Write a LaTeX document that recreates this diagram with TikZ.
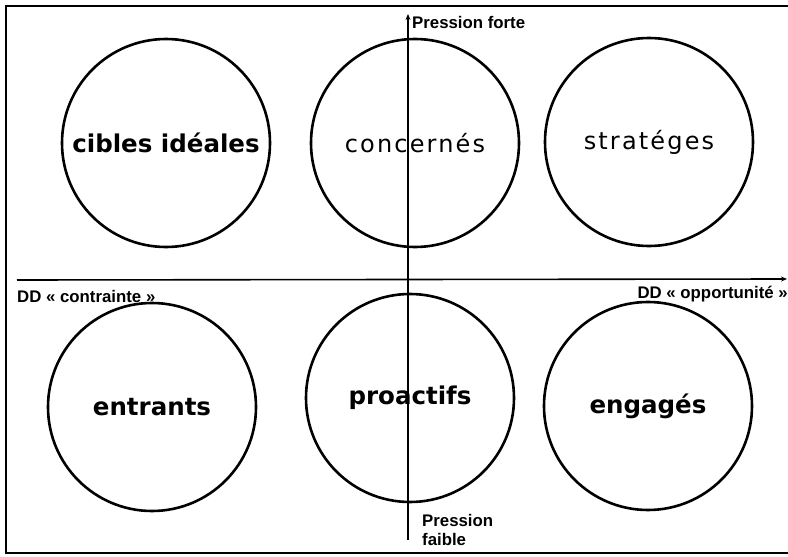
\documentclass[tikz,border=0pt]{standalone}
\usepackage{fontspec}
\setmainfont{DejaVu Sans}
\newfontfamily\axisfont{Liberation Sans}
\usetikzlibrary{arrows.meta}
\begin{document}
\begin{tikzpicture}[x=1pt,y=-1pt,
  bubble/.style={circle,draw,line width=2.6pt,minimum size=208pt,inner sep=0pt},
  boldlab/.style={font=\fontsize{24.5}{27}\selectfont\bfseries},
  thinlab/.style={font=\fontsize{24}{27}\selectfont\addfontfeature{LetterSpace=9}},
  axislab/.style={font=\axisfont\bfseries\fontsize{16.8}{19}\selectfont,inner sep=0pt,align=left},
  axisline/.style={line width=1.6pt,-{Stealth[length=6pt,width=5pt]}}]
\useasboundingbox (0,0) rectangle (788,557);
\draw[line width=2.5pt] (788,6) -- (6,6) -- (6,553) -- (788,553);
% axes
\coordinate (vb) at (408,540);
\coordinate (vt) at (408,14);
\coordinate (hl) at (17,280);
\coordinate (hr) at (787,279);
\draw[axisline] (vb) -- (vt);
\draw[axisline] (hl) -- (hr);
% circles
\node[bubble,boldlab] (cibles) at (166,143) {cibles idéales};
\node[bubble,thinlab] (concernes) at (415,143) {concernés};
\node[bubble,thinlab] (strateges) at (649,142) {stratéges};
\node[bubble,boldlab] (entrants) at (152,407) {entrants};
\node[bubble,boldlab] (proactifs) at (410,398) {proactifs};
\node[bubble,boldlab] (engages) at (648,406) {engagés};
% axis labels
\node[axislab,anchor=west] (forte) at (412,22) {Pression forte};
\node[axislab,anchor=north west] (faible) at (422,514) {Pression\\faible};
\node[axislab,anchor=west] (contrainte) at (17,296) {DD « contrainte »};
\node[axislab,anchor=east] (opportunite) at (788,294) {DD « opportunité »};
\end{tikzpicture}
\end{document}
